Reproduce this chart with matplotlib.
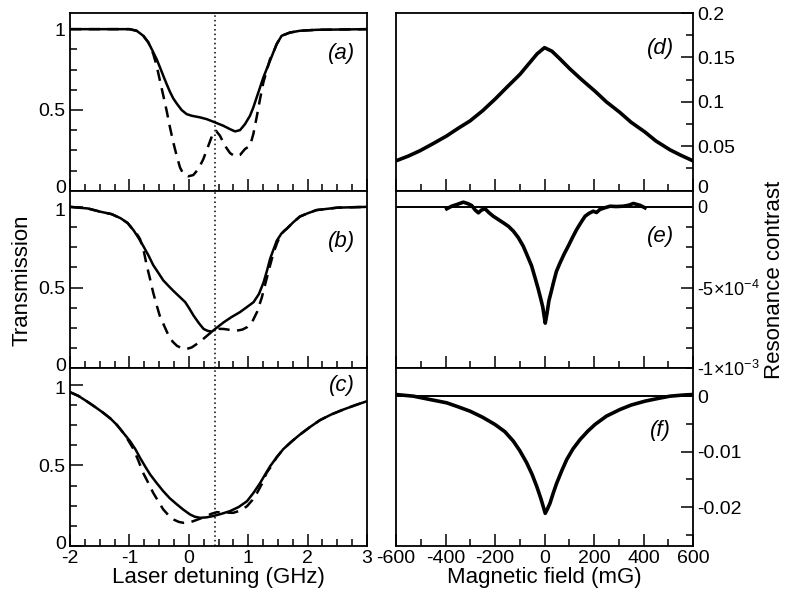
import numpy as np
import matplotlib.pyplot as plt
import matplotlib.transforms as mtransforms
from matplotlib.ticker import MultipleLocator, FixedLocator

plt.rcParams['font.family'] = ['Liberation Sans', 'DejaVu Sans']
plt.rcParams['mathtext.fontset'] = 'custom'
plt.rcParams['mathtext.rm'] = 'Liberation Sans'
plt.rcParams['mathtext.it'] = 'Liberation Sans:italic'
plt.rcParams['axes.unicode_minus'] = False

# ---- left column: transmission vs laser detuning (GHz)
a_solid_x = [-2, -1.0, -0.878, -0.766, -0.681, -0.597, -0.541, -0.485, -0.429, -0.373, -0.317, -0.261, -0.204,
             -0.120, -0.036, 0.048, 0.188, 0.301, 0.441, 0.581, 0.694, 0.778, 0.862, 0.946, 1.030, 1.086,
             1.142, 1.199, 1.255, 1.311, 1.367, 1.423, 1.479, 1.563, 1.703, 1.872, 2.153, 3]
a_solid_y = [1.0, 1.0, 0.990, 0.959, 0.918, 0.856, 0.814, 0.763, 0.711, 0.660, 0.612, 0.571, 0.540,
             0.499, 0.474, 0.464, 0.454, 0.443, 0.423, 0.402, 0.381, 0.367, 0.375, 0.412, 0.464, 0.515,
             0.577, 0.639, 0.701, 0.753, 0.804, 0.856, 0.907, 0.959, 0.979, 0.990, 0.996, 1.0]
a_dash_x = [-2, -1.0, -0.878, -0.766, -0.681, -0.597, -0.541, -0.485, -0.429, -0.373, -0.317, -0.261, -0.204,
            -0.148, -0.092, -0.008, 0.076, 0.161, 0.245, 0.329, 0.413, 0.458, 0.525, 0.609, 0.694, 0.778,
            0.862, 0.946, 1.030, 1.086, 1.142, 1.199, 1.255, 1.311, 1.367, 1.423, 1.479, 1.563, 1.703, 1.872,
            2.153, 3]
a_dash_y = [1.0, 1.0, 0.990, 0.959, 0.918, 0.845, 0.773, 0.680, 0.588, 0.495, 0.392, 0.299, 0.216,
            0.144, 0.103, 0.089, 0.097, 0.134, 0.196, 0.278, 0.361, 0.371, 0.340, 0.278, 0.233, 0.212,
            0.221, 0.258, 0.278, 0.350, 0.454, 0.567, 0.670, 0.742, 0.814, 0.856, 0.907, 0.959, 0.979, 0.990,
            0.996, 1.0]

b_solid_x = [-2, -1.7, -1.49, -1.3, -1.15, -1.03, -0.93, -0.85, -0.77, -0.68, -0.6, -0.51, -0.43, -0.34, -0.26,
             -0.16, -0.06, 0.01, 0.08, 0.17, 0.25, 0.32, 0.39, 0.48, 0.59, 0.72, 0.86, 0.98, 1.09, 1.18, 1.26,
             1.32, 1.37, 1.43, 1.48, 1.56, 1.65, 1.76, 1.87, 2.0, 2.15, 2.5, 3]
b_solid_y = [1.0, 0.99, 0.97, 0.955, 0.93, 0.9, 0.855, 0.81, 0.76, 0.70, 0.64, 0.59, 0.545, 0.51, 0.48,
             0.445, 0.41, 0.37, 0.327, 0.28, 0.244, 0.232, 0.228, 0.255, 0.286, 0.318, 0.348, 0.38, 0.41, 0.46, 0.534,
             0.61, 0.68, 0.74, 0.79, 0.835, 0.865, 0.905, 0.94, 0.96, 0.98, 0.995, 1.0]
b_dash_x = [-2, -1.7, -1.49, -1.3, -1.15, -1.03, -0.93, -0.87, -0.82, -0.76, -0.71, -0.65, -0.6, -0.54, -0.49,
            -0.41, -0.34, -0.27, -0.2, -0.12, -0.04, 0.05, 0.13, 0.22, 0.3, 0.41, 0.5, 0.59, 0.7, 0.81, 0.9, 0.98,
            1.07, 1.15, 1.23, 1.31, 1.37, 1.43, 1.49, 1.54, 1.6, 1.65, 1.76, 1.87, 2.0, 2.15, 2.5, 3]
b_dash_y = [1.0, 0.99, 0.97, 0.955, 0.93, 0.9, 0.855, 0.83, 0.80, 0.73, 0.64, 0.55, 0.47, 0.39, 0.327,
            0.26, 0.203, 0.165, 0.14, 0.125, 0.12, 0.13, 0.15, 0.175, 0.2, 0.234, 0.245, 0.244, 0.238, 0.234, 0.24, 0.255,
            0.29, 0.35, 0.44, 0.555, 0.64, 0.72, 0.78, 0.82, 0.85, 0.865, 0.905, 0.94, 0.96, 0.98, 0.995, 1.0]

c_solid_x = [-2, -1.86, -1.72, -1.58, -1.44, -1.32, -1.21, -1.1, -0.99, -0.9, -0.82, -0.73, -0.65, -0.54, -0.43,
             -0.32, -0.2, -0.09, 0.02, 0.1, 0.19, 0.3, 0.41, 0.55, 0.69, 0.84, 0.98, 1.09, 1.2, 1.28, 1.37,
             1.48, 1.59, 1.73, 1.87, 2.04, 2.21, 2.4, 2.6, 2.8, 3]
c_solid_y = [0.953, 0.93, 0.897, 0.862, 0.825, 0.79, 0.75, 0.70, 0.65, 0.60, 0.546, 0.49, 0.443, 0.39, 0.34,
             0.296, 0.258, 0.225, 0.196, 0.182, 0.175, 0.178, 0.186, 0.2, 0.216, 0.242, 0.278, 0.33, 0.39, 0.44, 0.495,
             0.55, 0.6, 0.647, 0.69, 0.737, 0.78, 0.815, 0.845, 0.872, 0.897]
c_dash_x = [-2, -1.86, -1.72, -1.58, -1.44, -1.32, -1.21, -1.1, -1.02, -0.93, -0.85, -0.77, -0.68, -0.6, -0.51,
            -0.43, -0.34, -0.26, -0.17, -0.09, 0.0, 0.08, 0.19, 0.3, 0.38, 0.47, 0.6, 0.75, 0.87, 0.98, 1.07,
            1.15, 1.23, 1.31, 1.4, 1.48, 1.59, 1.73, 1.87, 2.04, 2.21, 2.4, 2.6, 2.8, 3]
c_dash_y = [0.953, 0.93, 0.897, 0.862, 0.825, 0.79, 0.75, 0.70, 0.655, 0.6, 0.53, 0.454, 0.39, 0.33, 0.275,
            0.227, 0.19, 0.165, 0.15, 0.144, 0.145, 0.155, 0.17, 0.186, 0.2, 0.21, 0.208, 0.206, 0.22, 0.247, 0.285,
            0.33, 0.385, 0.454, 0.5, 0.55, 0.6, 0.647, 0.69, 0.737, 0.78, 0.815, 0.845, 0.872, 0.897]

marker_x = 0.44

# ---- right column: resonance contrast vs magnetic field (mG)
d_x = [-600, -550, -503, -450, -395, -350, -301, -250, -200, -150, -99, -60, -30, 0, 30, 60, 103, 150, 204,
       250, 305, 350, 406, 450, 507, 550, 600]
d_y = [0.0336, 0.039, 0.045, 0.053, 0.0617, 0.070, 0.0785, 0.090, 0.103, 0.117, 0.131, 0.144, 0.154, 0.161,
       0.157, 0.149, 0.137, 0.125, 0.112, 0.100, 0.088, 0.077, 0.066, 0.056, 0.046, 0.040, 0.0336]

e_x = [-395, -375, -355, -328, -310, -294, -280, -267, -255, -240, -225, -207, -185, -166, -146, -126, -106, -86,
       -70, -52, -38, -25, -15, -7, 3, 10, 18, 28, 36, 48, 63, 80, 96, 113, 130, 148, 164, 180, 197, 210, 224,
       245, 265, 290, 318, 340, 359, 385, 406]
e_y = [-1.2e-5, 0.4e-5, 1.4e-5, 2.9e-5, 2.0e-5, 0.8e-5, -2.0e-5, -3.7e-5, -2.0e-5, -1.2e-5, -3.5e-5, -5.8e-5,
       -8.0e-5, -9.9e-5, -1.2e-4, -1.5e-4, -1.9e-4, -2.43e-4, -3.0e-4, -3.66e-4, -4.4e-4, -5.1e-4, -5.7e-4,
       -6.2e-4, -7.2e-4, -6.6e-4, -5.8e-4, -5.2e-4, -4.7e-4, -4.0e-4, -3.46e-4, -2.9e-4, -2.43e-4, -1.9e-4,
       -1.4e-4, -9.5e-5, -5.8e-5, -4.0e-5, -2.7e-5, -3.5e-5, -1.6e-5, -0.5e-5, 0.4e-5, 0.2e-5, 0.4e-5, 1.0e-5,
       2.1e-5, 1.0e-5, -0.6e-5]

f_x = [-600, -530, -463, -395, -350, -301, -250, -200, -160, -126, -100, -72, -50, -31, -15, -5, 3, 12, 22,
       35, 49, 70, 90, 115, 144, 175, 204, 250, 305, 350, 406, 460, 507, 560, 600]
f_y = [0.0003, 0, -0.0006, -0.0012, -0.0019, -0.0027, -0.0038, -0.0051, -0.0064, -0.0081, -0.0098, -0.012,
       -0.0141, -0.0163, -0.0184, -0.0199, -0.0211, -0.0203, -0.0193, -0.0175, -0.0157, -0.0134, -0.0114,
       -0.0095, -0.0078, -0.0063, -0.0051, -0.0036, -0.0024, -0.0016, -0.0009, -0.0004, 0, 0.0002, 0.0003]

fig = plt.figure(figsize=(7.85, 5.99), dpi=100)

W, H = 785.0, 599.0
top, ph = 13, 177.7
lx, rx, pw = 70, 396, 297

def make_ax(x0, row):
    y0 = top + ph * (row + 1)
    return fig.add_axes([x0 / W, 1 - y0 / H, pw / W, ph / H])

def nudge(label, dx_px, dy_px):
    off = mtransforms.ScaledTranslation(dx_px / 100, dy_px / 100, fig.dpi_scale_trans)
    label.set_transform(label.get_transform() + off)

lw = 1.8
dash = (0, (4.5, 3))
tick_fs = 14
lab_fs = 16

for row, (sx, sy, dx, dy, lab, ly) in enumerate([
        (a_solid_x, a_solid_y, a_dash_x, a_dash_y, '(a)', 0.77),
        (b_solid_x, b_solid_y, b_dash_x, b_dash_y, '(b)', 0.715),
        (c_solid_x, c_solid_y, c_dash_x, c_dash_y, '(c)', 0.905)]):
    ax = make_ax(lx, row)
    ax.plot(dx, dy, color='black', lw=lw, ls=dash)
    ax.plot(sx, sy, color='black', lw=lw)
    ax.axvline(marker_x, color='black', lw=1.1, ls=(0, (1, 2)))
    ax.set_xlim(-2, 3)
    ax.set_ylim(0, 1.1)
    ax.xaxis.set_major_locator(FixedLocator([-2, -1, 0, 1, 2, 3]))
    ax.xaxis.set_minor_locator(MultipleLocator(0.25))
    ax.yaxis.set_major_locator(FixedLocator([0, 0.5, 1]))
    ax.yaxis.set_minor_locator(MultipleLocator(0.125))
    ax.set_yticklabels(['0', '0.5', '1'])
    ax.tick_params(which='both', direction='in', top=False, right=False, labelsize=tick_fs, width=1.1, pad=3)
    ax.tick_params(which='major', length=9)
    ax.tick_params(which='minor', length=5)
    ax.text(0.915, ly, lab, transform=ax.transAxes, fontsize=lab_fs, style='italic', ha='center', va='center')
    if row < 2:
        ax.tick_params(labelbottom=False)
    else:
        ax.set_xticklabels(['-2', '-1', '0', '1', '2', '3'])
        ax.set_xlabel('Laser detuning (GHz)', fontsize=16, labelpad=0)
    ylabels = ax.get_yticklabels()
    nudge(ylabels[0], 0, 4)
    if row > 0:
        nudge(ylabels[2], 0, -3)
    for s in ax.spines.values():
        s.set_linewidth(1.3)

right_specs = [
    (d_x, d_y, (0, 0.2), [0, 0.05, 0.1, 0.15, 0.2], ['0', '0.05', '0.1', '0.15', '0.2'], 0.025, '(d)', 0.80, False),
    (e_x, e_y, (-1e-3, 1e-4), [-1e-3, -5e-4, 0], [r'-1$\times$10$^{-3}$', r'-5$\times$10$^{-4}$', '0'], 1.25e-4, '(e)', 0.74, True),
    (f_x, f_y, (-0.027, 0.005), [-0.02, -0.01, 0], ['-0.02', '-0.01', '0'], 0.005, '(f)', 0.65, True),
]
for row, (x, y, yl, yt, ytl, ym, lab, ly, zero) in enumerate(right_specs):
    ax = make_ax(rx, row)
    if zero:
        ax.axhline(0, color='black', lw=1.4)
    ax.plot(x, y, color='black', lw=2.6)
    ax.set_xlim(-600, 600)
    ax.set_ylim(*yl)
    ax.xaxis.set_major_locator(FixedLocator([-600, -400, -200, 0, 200, 400, 600]))
    ax.xaxis.set_minor_locator(MultipleLocator(100))
    ax.yaxis.set_major_locator(FixedLocator(yt))
    ax.yaxis.set_minor_locator(MultipleLocator(ym))
    ax.set_yticklabels(ytl)
    ax.yaxis.tick_right()
    ax.tick_params(which='both', direction='in', top=False, left=False, labelsize=tick_fs, width=1.1, pad=3)
    ax.tick_params(which='major', length=9)
    ax.tick_params(which='minor', length=5)
    ax.text(0.89, ly, lab, transform=ax.transAxes, fontsize=lab_fs, style='italic', ha='center', va='center')
    if row < 2:
        ax.tick_params(labelbottom=False)
    else:
        ax.set_xticklabels(['-600', '-400', '-200', '0', '200', '400', '600'])
        ax.set_xlabel('Magnetic field (mG)', fontsize=16, labelpad=0)
    if row == 1:
        for t in ax.get_yticklabels():
            t.set_fontsize(13)
    if row == 0:
        nudge(ax.get_yticklabels()[0], 0, 4)
    for s in ax.spines.values():
        s.set_linewidth(1.3)

fig.text(22 / W, 1 - 280 / H, 'Transmission', rotation=90, fontsize=16, ha='center', va='center')
fig.text(774 / W, 1 - 280 / H, 'Resonance contrast', rotation=90, fontsize=16, ha='center', va='center')

fig.savefig('out.png', dpi=100)
